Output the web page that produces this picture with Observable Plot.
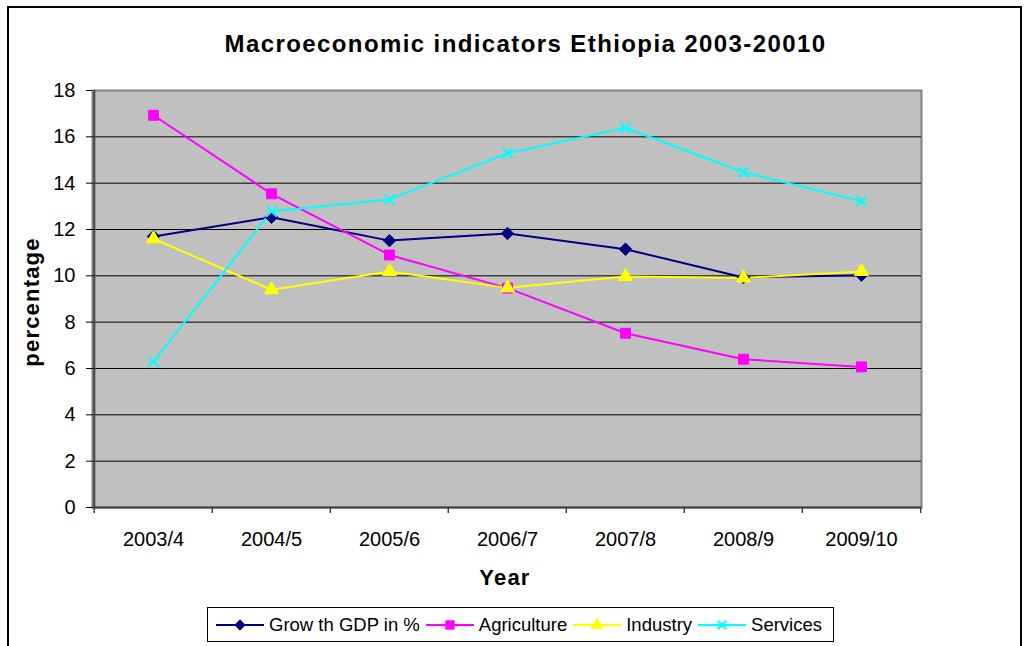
<!DOCTYPE html>
<html>
<head>
<meta charset="utf-8">
<script src="https://cdn.jsdelivr.net/npm/d3@7"></script>
<script src="https://cdn.jsdelivr.net/npm/@observablehq/plot@0.6"></script>
<style>
  html, body { margin: 0; padding: 0; background: #fff; }
  #wrap { position: relative; width: 1034px; height: 646px; overflow: hidden; font-family: "Liberation Sans", Arial, sans-serif; }
  #frame { position: absolute; left: 7px; top: 6px; width: 1015px; height: 700px; border: 2px solid #000; box-sizing: border-box; }
  #chart { position: absolute; left: 0; top: 0; }
  #title { position: absolute; left: 0; width: 1051px; top: 30px; text-align: center; font-weight: bold; font-size: 24px; letter-spacing: 1.4px; line-height: 28px; }
  #ylab { position: absolute; left: 32px; top: 302px; transform: translate(-50%, -50%) rotate(-90deg); font-weight: bold; font-size: 22px; letter-spacing: 1.2px; white-space: nowrap; line-height: 24px; }
  #xlab { position: absolute; left: 0; width: 1010px; top: 565px; text-align: center; font-weight: bold; font-size: 22px; letter-spacing: 1.2px; line-height: 26px; }
  #legend { position: absolute; left: 207px; top: 607px; width: 627px; height: 35px; border: 1.5px solid #000; box-sizing: border-box; display: flex; align-items: center; padding-left: 8px; font-size: 18.5px; }
  .item { display: flex; align-items: center; margin-right: 6px; }
  .item svg { margin-right: 5px; }
</style>
</head>
<body>
<div id="wrap">
  <div id="frame"></div>
  <div id="chart"></div>
  <div id="title">Macroeconomic indicators Ethiopia 2003-20010</div>
  <div id="ylab">percentage</div>
  <div id="xlab">Year</div>
  <div id="legend"></div>
</div>
<script>
// ---- data ----
const years = ["2003/4", "2004/5", "2005/6", "2006/7", "2007/8", "2008/9", "2009/10"];
const seriesNames = ["Grow th GDP in %", "Agriculture", "Industry", "Services"];
const gdp = [11.7, 12.53, 11.52, 11.83, 11.15, 9.93, 10.03];
const agriculture = [16.93, 13.54, 10.9, 9.47, 7.52, 6.4, 6.07];
const industry = [11.6, 9.4, 10.19, 9.48, 9.97, 9.91, 10.19];
const services = [6.3, 12.78, 13.3, 15.29, 16.39, 14.47, 13.22];
const yTicks = [0, 2, 4, 6, 8, 10, 12, 14, 16, 18];

const colors = ["#000080", "#FF00FF", "#FFFF00", "#00FFFF"];
const symbols = ["diamond2", "square", "triangle", "times"];
const radii = [5.6, 5.6, 5.2, 4.8];

const valuesBySeries = [gdp, agriculture, industry, services];
const rows = [];
seriesNames.forEach((s, si) => {
  years.forEach((yr, i) => rows.push({series: s, si, year: yr, value: valuesBySeries[si][i]}));
});

const W = 1034, H = 646;
const mL = 92, mR = 113, mT = 90, mB = 139;
const step = (W - mL - mR) / years.length;

const lineMarks = seriesNames.map((s, si) =>
  Plot.line(rows.filter(d => d.si === si), {x: "year", y: "value", stroke: colors[si], strokeWidth: 2})
);
const dotMarks = seriesNames.map((s, si) => {
  const data = rows.filter(d => d.si === si);
  const stroked = symbols[si] === "times";
  return Plot.dot(data, {
    x: "year", y: "value", symbol: () => symbols[si], r: radii[si],
    fill: stroked ? "none" : colors[si],
    stroke: colors[si], strokeWidth: stroked ? 2 : 1
  });
});

const chart = Plot.plot({
  width: W, height: H,
  marginLeft: mL, marginRight: mR, marginTop: mT, marginBottom: mB,
  style: {background: "transparent", fontFamily: "'Liberation Sans', Arial, sans-serif", fontSize: "20px", color: "#000", overflow: "visible"},
  x: {type: "point", domain: years, padding: 0.5, label: null},
  y: {domain: [0, 18], label: null},
  symbol: {type: "identity"},
  marks: [
    Plot.frame({fill: "#C0C0C0", stroke: "#808080", strokeWidth: 2}),
    Plot.ruleY(yTicks.filter(t => t > 0 && t < 18), {y: d => d, stroke: "#000", strokeWidth: 1}),
    Plot.ruleY([0], {stroke: "#404040", strokeWidth: 2}),
    Plot.ruleX([years[0]], {x: d => d, dx: -step / 2, y1: 0, y2: 18, stroke: "#404040", strokeWidth: 2}),
    Plot.ruleX(years, {x: d => d, dx: -step / 2, y1: 0, y2: 0, insetBottom: -6, stroke: "#404040", strokeWidth: 1.5}),
    Plot.ruleX([years[years.length - 1]], {x: d => d, dx: step / 2, y1: 0, y2: 0, insetBottom: -6, stroke: "#404040", strokeWidth: 1.5}),
    Plot.axisY({ticks: yTicks, tickSize: 6, tickPadding: 11, label: null, fontSize: 20, tickFormat: d => String(d)}),
    Plot.axisX({tickSize: 0, tickPadding: 24, label: null, fontSize: 20}),
    ...lineMarks,
    ...dotMarks
  ]
});
document.getElementById("chart").appendChild(chart);

// ---- legend ----
const legend = document.getElementById("legend");
const ns = "http://www.w3.org/2000/svg";
seriesNames.forEach((s, si) => {
  const item = document.createElement("div");
  item.className = "item";
  const svg = document.createElementNS(ns, "svg");
  svg.setAttribute("width", 48); svg.setAttribute("height", 20);
  const line = document.createElementNS(ns, "line");
  line.setAttribute("x1", 0); line.setAttribute("x2", 48);
  line.setAttribute("y1", 10); line.setAttribute("y2", 10);
  line.setAttribute("stroke", colors[si]); line.setAttribute("stroke-width", 2);
  svg.appendChild(line);
  const path = document.createElementNS(ns, "path");
  const symMap = {diamond2: d3.symbolDiamond2, square: d3.symbolSquare, triangle: d3.symbolTriangle, times: d3.symbolTimes};
  const size = Math.PI * radii[si] * radii[si] * 0.7;
  path.setAttribute("d", d3.symbol(symMap[symbols[si]], size)());
  path.setAttribute("transform", "translate(24,10)");
  const stroked = symbols[si] === "times";
  path.setAttribute("fill", stroked ? "none" : colors[si]);
  path.setAttribute("stroke", colors[si]);
  path.setAttribute("stroke-width", stroked ? 2 : 1);
  svg.appendChild(path);
  item.appendChild(svg);
  const label = document.createElement("span");
  label.textContent = s;
  item.appendChild(label);
  legend.appendChild(item);
});
</script>
</body>
</html>
